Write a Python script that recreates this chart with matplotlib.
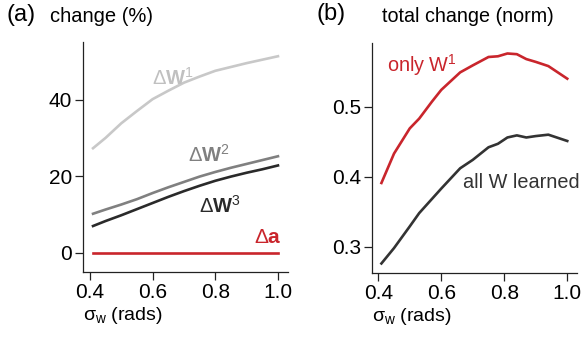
#!/usr/bin/env python3
import numpy as np
import matplotlib
matplotlib.use('Agg')
import matplotlib.pyplot as plt

plt.rcParams['font.family'] = ['Liberation Sans', 'DejaVu Sans']
plt.rcParams['mathtext.fontset'] = 'custom'
plt.rcParams['mathtext.rm'] = 'Liberation Sans'
plt.rcParams['mathtext.bf'] = 'Liberation Sans:bold'
plt.rcParams['mathtext.it'] = 'Liberation Sans:italic'

# panel (a): percent change of each parameter vs sigma_w
sigma_a = [0.41, 0.45, 0.50, 0.55, 0.60, 0.65, 0.70, 0.75, 0.80, 0.85, 0.90, 0.95, 1.00]
dW1 = [27.3, 30.0, 33.8, 37.0, 40.1, 42.3, 44.4, 46.0, 47.5, 48.5, 49.5, 50.4, 51.3]
dW2 = [10.2, 11.3, 12.6, 14.0, 15.6, 17.1, 18.5, 19.9, 21.1, 22.2, 23.2, 24.2, 25.2]
dW3 = [7.0, 8.3, 9.8, 11.4, 13.0, 14.6, 16.1, 17.5, 18.8, 19.9, 20.9, 21.8, 22.8]
da = [0.0] * len(sigma_a)

# panel (b): total normalised change
sigma_b = [0.41, 0.45, 0.50, 0.53, 0.57, 0.60, 0.66, 0.70, 0.75, 0.78,
           0.81, 0.84, 0.87, 0.90, 0.94, 1.00]
only_w1 = [0.391, 0.433, 0.469, 0.483, 0.507, 0.524, 0.549, 0.559, 0.571, 0.572,
           0.576, 0.575, 0.568, 0.564, 0.558, 0.540]
all_w = [0.276, 0.298, 0.329, 0.348, 0.368, 0.383, 0.412, 0.424, 0.442, 0.447,
         0.456, 0.459, 0.456, 0.458, 0.460, 0.451]

RED = '#c9252c'
TICK_FS = 15


def style_axes(ax):
    for s in ['top', 'right']:
        ax.spines[s].set_visible(False)
    for s in ['left', 'bottom']:
        ax.spines[s].set_linewidth(0.9)
        ax.spines[s].set_color('#222222')
    ax.tick_params(direction='out', length=6, width=0.9, labelsize=TICK_FS,
                   color='#222222', pad=2)


fig = plt.figure(figsize=(5.85, 3.42), dpi=100)

# (a)
ax1 = fig.add_axes([0.1419, 0.2047, 0.4923 - 0.1419, 0.877 - 0.2047])
ax1.plot(sigma_a, dW1, color='#c8c8c8', lw=1.9)
ax1.plot(sigma_a, dW2, color='#808080', lw=1.9)
ax1.plot(sigma_a, dW3, color='#2a2a2a', lw=1.9)
ax1.plot(sigma_a, da, color=RED, lw=1.9)
ax1.set_xlim(0.378, 1.032)
ax1.set_ylim(-5, 55)
ax1.set_xticks([0.4, 0.6, 0.8, 1.0])
ax1.set_yticks([0, 20, 40])
ax1.set_xticklabels(['0.4', '0.6', '0.8', '1.0'])
style_axes(ax1)
ax1.set_xlabel(r'σ$_\mathrm{w}$ (rads)', fontsize=14, labelpad=2, loc='left')

ax1.text(0.598, 45.7, r'$\Delta\mathbf{W}^{1}$', color='#c0c0c0', fontsize=14.5,
         ha='left', va='center')
ax1.text(0.713, 25.6, r'$\Delta\mathbf{W}^{2}$', color='#808080', fontsize=14.5,
         ha='left', va='center')
ax1.text(0.748, 12.3, r'$\Delta\mathbf{W}^{3}$', color='#2a2a2a', fontsize=14.5,
         ha='left', va='center')
ax1.text(1.012, 3.9, r'$\Delta\mathbf{a}$', color=RED, fontsize=15,
         ha='right', va='center')

# (b)
ax2 = fig.add_axes([0.6364, 0.2018, 0.9858 - 0.6364, 0.8743 - 0.2018])
ax2.plot(sigma_b, only_w1, color=RED, lw=1.9)
ax2.plot(sigma_b, all_w, color='#333333', lw=1.9)
ax2.set_xlim(0.381, 1.03)
ax2.set_ylim(0.2624, 0.591)
ax2.set_xticks([0.4, 0.6, 0.8, 1.0])
ax2.set_yticks([0.3, 0.4, 0.5])
ax2.set_xticklabels(['0.4', '0.6', '0.8', '1.0'])
style_axes(ax2)
ax2.set_xlabel(r'σ$_\mathrm{w}$ (rads)', fontsize=14, labelpad=2, loc='left')

ax2.text(0.428, 0.5596, r'only W$^{1}$', color=RED, fontsize=14.3,
         ha='left', va='center')
ax2.text(0.669, 0.391, 'all W learned', color='#333333', fontsize=14.3,
         ha='left', va='center')

# panel letters and titles
fig.text(7 / 585, 1 - 15 / 342, '(a)', fontsize=17, va='center', ha='left')
fig.text(50 / 585, 1 - 16 / 342, 'change (%)', fontsize=14.5, va='center', ha='left')
fig.text(317 / 585, 1 - 14 / 342, '(b)', fontsize=17, va='center', ha='left')
fig.text(382 / 585, 1 - 17 / 342, 'total change (norm)', fontsize=14.2,
         family=['Liberation Sans Narrow', 'Liberation Sans'],
         va='center', ha='left')

fig.savefig('out.png', dpi=100)
